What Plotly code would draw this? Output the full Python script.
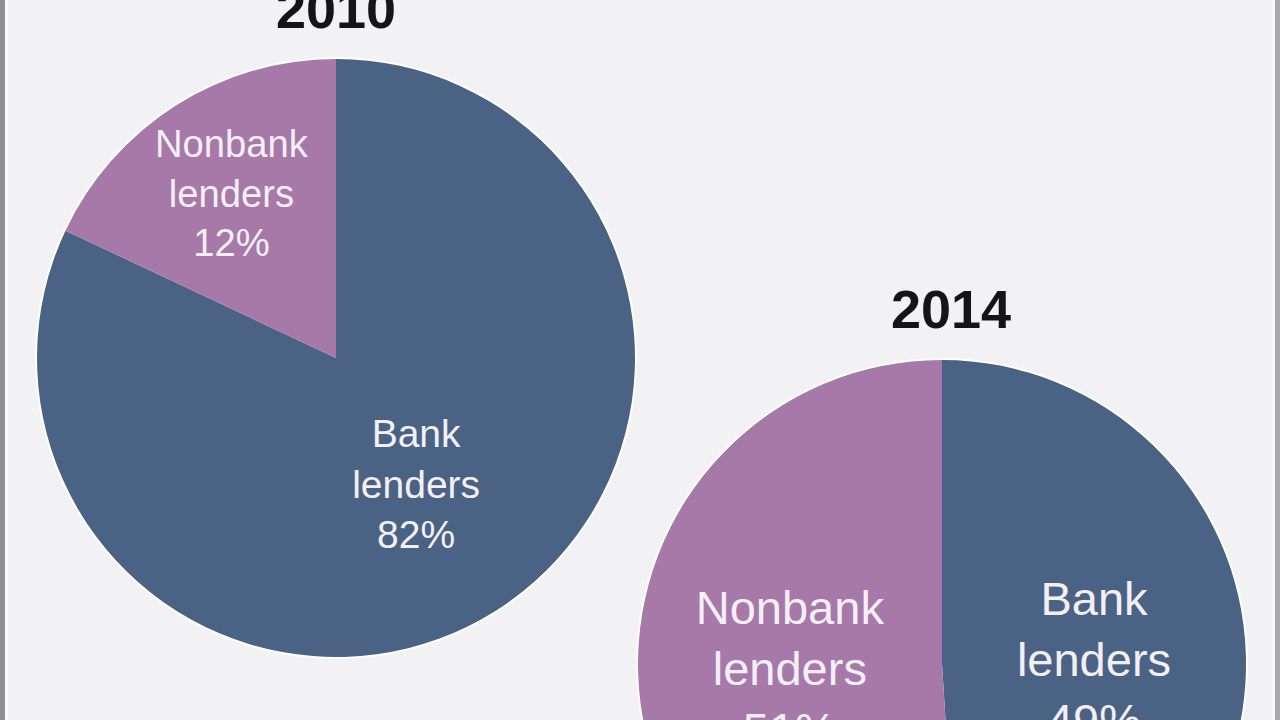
import plotly.graph_objects as go

# ---- data ----
lenders = ["Bank lenders", "Nonbank lenders"]
label_lines = ["Bank<br>lenders", "Nonbank<br>lenders"]
years = ["2010", "2014"]
share_2010 = [82, 18]          # slice sizes as drawn
printed_2010 = ["82%", "12%"]  # labels as printed
share_2014 = [49, 51]
printed_2014 = ["49%", "51%"]

# ---- style ----
W, H = 1280, 1000
BANK = "#4a6384"
NONBANK = "#a679a9"
BG = "#f2f2f4"
TXT = "#f4eff7"
FONT = "Liberation Sans, Arial, Helvetica, sans-serif"


def dom(cx, cy, r):
    return dict(x=[(cx - r) / W, (cx + r) / W], y=[1 - (cy + r) / H, 1 - (cy - r) / H])


pies = [
    dict(year=years[0], values=share_2010, printed=printed_2010, cx=336, cy=358, r=299, fs=39),
    dict(year=years[1], values=share_2014, printed=printed_2014, cx=942, cy=664, r=304, fs=47),
]

fig = go.Figure()
for p in pies:
    # white halo behind the pie
    fig.add_trace(go.Pie(values=[1], labels=["halo"], domain=dom(p["cx"], p["cy"], p["r"] + 2),
                         marker=dict(colors=["#ffffff"]), textinfo="none", hoverinfo="skip",
                         sort=False, showlegend=False))
    fig.add_trace(go.Pie(
        labels=lenders, values=p["values"],
        text=[f"{l}<br>{t}" for l, t in zip(label_lines, p["printed"])],
        textinfo="text", textposition="inside", insidetextorientation="horizontal",
        textfont=dict(family=FONT, size=p["fs"], color=TXT),
        marker=dict(colors=[BANK, NONBANK], line=dict(width=0)),
        sort=False, direction="clockwise", rotation=0,
        domain=dom(p["cx"], p["cy"], p["r"]), showlegend=False, name=p["year"],
    ))

fig.update_layout(
    width=W, height=H, margin=dict(l=0, r=0, t=0, b=0),
    paper_bgcolor=BG, plot_bgcolor=BG, showlegend=False,
    annotations=[
        dict(text=f"<b>{pies[0]['year']}</b>", x=336 / W, y=1 - 9 / H, xref="paper", yref="paper",
             xanchor="center", yanchor="middle", showarrow=False,
             font=dict(family=FONT, size=54, color="#151515")),
        dict(text=f"<b>{pies[1]['year']}</b>", x=951 / W, y=1 - 309 / H, xref="paper", yref="paper",
             xanchor="center", yanchor="middle", showarrow=False,
             font=dict(family=FONT, size=54, color="#151515")),
    ],
    shapes=[
        dict(type="rect", xref="paper", yref="paper", x0=0, x1=5 / W, y0=0, y1=1,
             fillcolor="#8f8f8f", line=dict(width=0), layer="above"),
        dict(type="rect", xref="paper", yref="paper", x0=5 / W, x1=8 / W, y0=0, y1=1,
             fillcolor="#fafafa", line=dict(width=0), layer="above"),
        dict(type="rect", xref="paper", yref="paper", x0=1272 / W, x1=1275 / W, y0=0, y1=1,
             fillcolor="#f8f8f8", line=dict(width=0), layer="above"),
        dict(type="rect", xref="paper", yref="paper", x0=1275 / W, x1=1, y0=0, y1=1,
             fillcolor="#aaaaaa", line=dict(width=0), layer="above"),
    ],
)

fig.write_html("out.html", config={"displayModeBar": False},
               post_script="document.body.style.margin='0';document.body.style.overflow='hidden';")
